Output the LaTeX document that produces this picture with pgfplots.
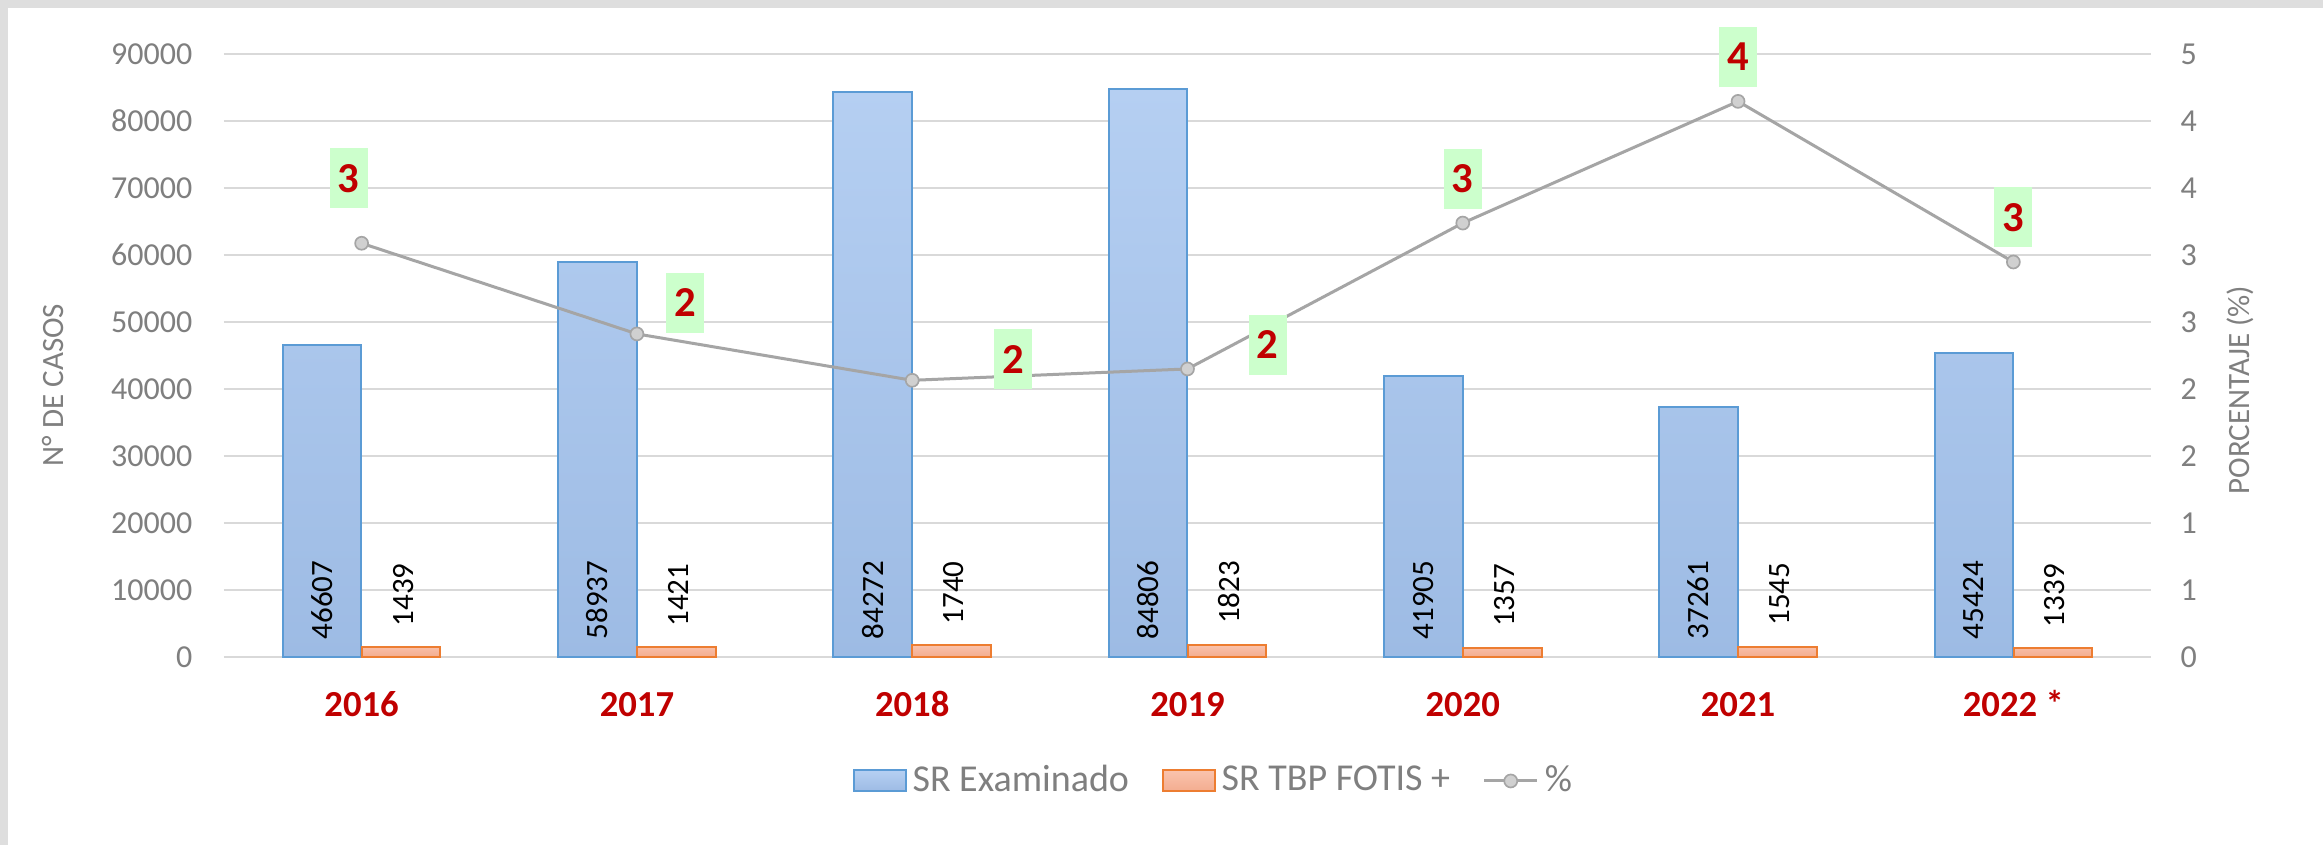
\documentclass[border=0pt]{standalone}
\usepackage{pgfplots}
\pgfplotsset{compat=1.18}
\usepackage{pgfplotstable}
\usepackage{fontspec}
\setmainfont{Carlito}

\definecolor{tickc}{HTML}{7F7F7F}
\definecolor{gridc}{HTML}{D9D9D9}
\definecolor{darkred}{HTML}{C00000}
\definecolor{boxc}{HTML}{CCFFCC}
\definecolor{bluetop}{HTML}{B5CFF2}
\definecolor{bluebot}{HTML}{9DBBE4}
\definecolor{blueedge}{HTML}{5B9BD5}
\definecolor{orgtop}{HTML}{FAC3AD}
\definecolor{orgbot}{HTML}{F3AC8F}
\definecolor{orgedge}{HTML}{ED7D31}
\definecolor{linec}{HTML}{A5A5A5}
\definecolor{markc}{HTML}{D0D0D0}
\definecolor{framec}{HTML}{DEDEDE}

\pgfplotstableread{
x ex tb p lbl dx dy
0 46607 1439 3.0875 3 -3.9 19.5
1 58937 1421 2.4110 2 14.4 9.3
2 84272 1740 2.0648 2 30.3 6.3
3 84806 1823 2.1496 2 24.0 7.2
4 41905 1357 3.2383 3 0 13.2
5 37261 1545 4.1464 4 0 13.35
6 45424 1339 2.9478 3 0 13.35
}\data

\begin{document}
\begin{tikzpicture}
\useasboundingbox (-67.2pt,-56.4pt) rectangle (629.7pt,197.1pt);
\fill[framec] (-67.2pt,-56.4pt) rectangle (629.7pt,197.1pt);
\fill[white] (-64.8pt,-56.4pt) rectangle (629.7pt,194.7pt);

\begin{axis}[
  at={(0pt,0pt)}, anchor=south west,
  scale only axis, width=578.1pt, height=180.9pt,
  clip=false,
  xmin=-0.5, xmax=6.5, ymin=0, ymax=90000,
  scaled y ticks=false,
  xtick={0,1,2,3,4,5,6},
  xticklabels={2016,2017,2018,2019,2020,2021,2022 *},
  ytick={0,10000,20000,30000,40000,50000,60000,70000,80000,90000},
  yticklabels={0,10000,20000,30000,40000,50000,60000,70000,80000,90000},
  axis line style={draw=none},
  major tick length=0pt,
  ymajorgrids, grid style={gridc, line width=0.45pt},
  yticklabel style={font=\fontsize{9.6}{11}\selectfont, text=tickc, anchor=east, inner sep=0pt, xshift=-9.3pt},
  xticklabel style={font=\bfseries\fontsize{11}{13}\selectfont, text=darkred, anchor=base, inner sep=0pt, yshift=-17.85pt},
  ylabel={N° DE CASOS},
  ylabel style={at={(axis description cs:-0.0887,0.451)}, anchor=center, font=\fontsize{9.3}{11}\selectfont, text=tickc},
]
\addplot[ybar, bar width=23.55pt, bar shift=-11.85pt, draw=blueedge, line width=0.6pt,
  top color=bluetop, bottom color=bluebot]
  table[x=x, y=ex] {\data};
\addplot[ybar, bar width=23.55pt, bar shift=11.85pt, draw=orgedge, line width=0.6pt,
  top color=orgtop, bottom color=orgbot,
  point meta=explicit symbolic, nodes near coords,
  nodes near coords style={font=\fontsize{9.3}{11}\selectfont, text=black, xshift=12.5pt, rotate=90, anchor=west, inner sep=0pt, xshift=6pt}]
  table[x=x, y=tb, meta=tb] {\data};
\addplot[only marks, mark=*, mark size=0pt, mark options={draw=none, fill=none},
  point meta=explicit symbolic, nodes near coords,
  nodes near coords style={font=\fontsize{9.3}{11}\selectfont, text=black, xshift=-11.85pt, rotate=90, anchor=west, inner sep=0pt, xshift=5.1pt}]
  table[x=x, y expr=0, meta=ex] {\data};
\end{axis}

\begin{axis}[
  at={(0pt,0pt)}, anchor=south west,
  scale only axis, width=578.1pt, height=180.9pt,
  clip=false,
  xmin=-0.5, xmax=6.5, ymin=0, ymax=4.5,
  axis y line*=right, axis x line=none,
  axis line style={draw=none},
  major tick length=0pt,
  ytick={0,0.5,1,1.5,2,2.5,3,3.5,4,4.5},
  yticklabels={0,1,1,2,2,3,3,4,4,5},
  yticklabel style={font=\fontsize{9.6}{11}\selectfont, text=tickc, anchor=west, inner sep=0pt, xshift=8.7pt},
  ylabel={PORCENTAJE (\%)},
  ylabel style={at={(axis description cs:1.0462,0.4428)}, anchor=center, rotate=0, font=\fontsize{9.3}{11}\selectfont, text=tickc},
  legend style={at={(axis description cs:0.5144,-0.2056)}, anchor=center, legend columns=-1,
    draw=none, fill=none, font=\fontsize{11.4}{13}\selectfont, text=tickc,
    /tikz/every even column/.append style={column sep=8pt},
    nodes={inner xsep=1.8pt, inner ysep=1pt}},
  legend cell align=left,
]
\addlegendimage{legend image code/.code={\draw[draw=blueedge, line width=0.6pt, top color=bluetop, bottom color=bluebot] (0pt,-3.15pt) rectangle (15.6pt,3.15pt);}}
\addlegendentry{SR Examinado}
\addlegendimage{legend image code/.code={\draw[draw=orgedge, line width=0.6pt, top color=orgtop, bottom color=orgbot] (0pt,-3.15pt) rectangle (15.6pt,3.15pt);}}
\addlegendentry{SR TBP FOTIS +}
\addlegendimage{legend image code/.code={\draw[linec, line width=0.9pt] (0pt,0pt) -- (15.9pt,0pt); \fill[markc, draw=linec, line width=0.5pt] (7.95pt,0pt) circle (1.95pt);}}
\addlegendentry{\%}
\addplot[forget plot, color=linec, line width=0.9pt, mark=*, mark size=1.95pt,
  mark options={fill=markc, draw=linec, line width=0.5pt},
  point meta=explicit symbolic, nodes near coords,
  visualization depends on={\thisrow{dx}\as\dx},
  visualization depends on={\thisrow{dy}\as\dy},
  nodes near coords style={anchor=center, xshift=\dx pt, yshift=\dy pt, fill=boxc, draw=none,
    minimum width=11.4pt, minimum height=18pt, inner sep=0pt,
    font=\bfseries\fontsize{12.8}{14}\selectfont, text=darkred}]
  table[x=x, y=p, meta=lbl] {\data};
\end{axis}
\end{tikzpicture}
\end{document}
